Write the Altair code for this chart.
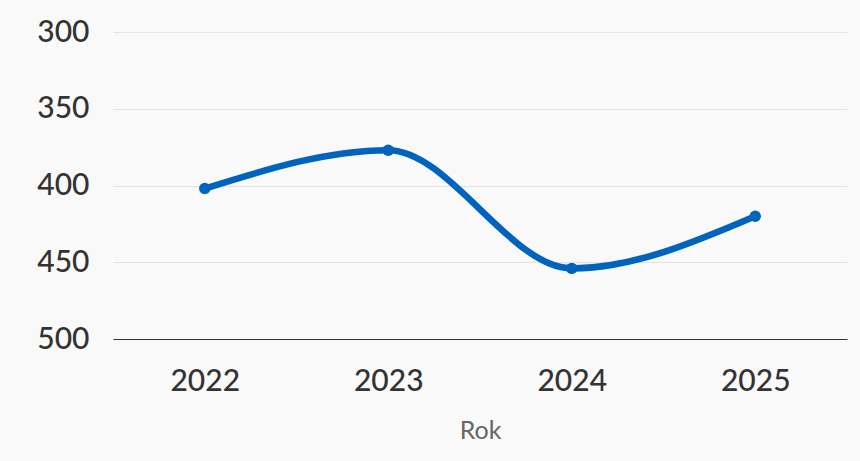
import altair as alt
import pandas as pd

years = ["2022", "2023", "2024", "2025"]
values = [402, 377, 454, 420]
y_ticks = [300, 350, 400, 450, 500]

df = pd.DataFrame({"Rok": years, "Wartość": values})

FONT = "Lato"

base = alt.Chart(df).encode(
    x=alt.X("Rok:O", title="Rok", sort=years,
            axis=alt.Axis(labelAngle=0, labelFontSize=30, labelColor="#333333",
                          labelFontWeight=500,
                          labelPadding=27, ticks=False, domain=True, domainColor="#333333",
                          domainWidth=1.2, grid=False, titleFontSize=25,
                          titleColor="#666666", titleFontWeight="normal", titlePadding=22,
                          labelFont=FONT, titleFont=FONT)),
    y=alt.Y("Wartość:Q", title=None,
            scale=alt.Scale(domain=[300, 500], reverse=True, nice=False, zero=False),
            axis=alt.Axis(values=y_ticks, labelFontSize=30, labelColor="#333333",
                          labelFontWeight=500,
                          labelPadding=24, ticks=False, domain=False, grid=True,
                          gridColor="#e4e4e4", gridWidth=1.2, labelFont=FONT)),
)

line = base.mark_line(color="#0063BE", strokeWidth=6.5, interpolate="monotone")
pts = base.mark_circle(color="#0063BE", size=130, opacity=1)

chart = (line + pts).properties(
    width=734, height=307,
    autosize=alt.AutoSizeParams(type="none"),
    padding={"left": 113, "top": 32, "right": 13, "bottom": 122},
    background="#f9f9f9",
).configure_view(stroke=None)

chart.save("out.html", embed_options={"renderer": "svg", "actions": False})
